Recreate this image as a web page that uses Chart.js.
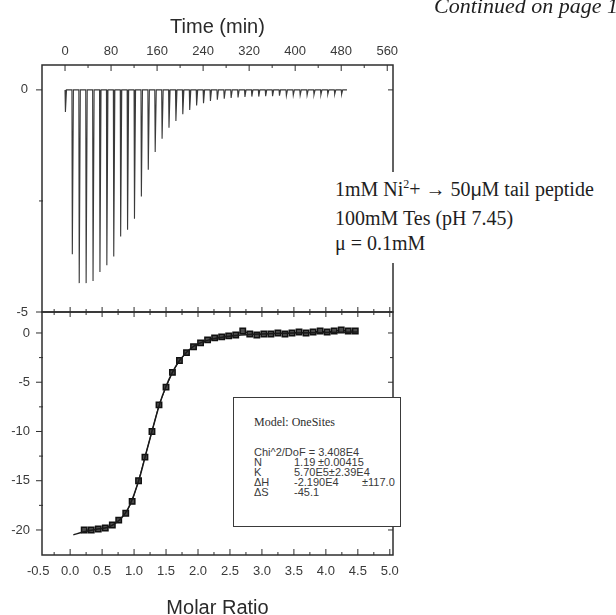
<!DOCTYPE html>
<html>
<head>
<meta charset="utf-8">
<script src="https://cdn.jsdelivr.net/npm/chart.js@4"></script>
<style>
  html, body { margin: 0; padding: 0; background: #fff; width: 616px; height: 615px; overflow: hidden; }
  #wrap { position: relative; width: 616px; height: 615px; overflow: hidden; }
  canvas { position: absolute; left: 0; }
  #chart-power { top: 0; }
  #chart-heat { top: 300px; }
  .serif { position: absolute; font-family: "Liberation Serif", "Times New Roman", serif; color: #1e1e1e; white-space: nowrap; }
  #continued { left: 434px; top: -5px; font-size: 22px; line-height: 22px; font-style: italic; }
  #conditions { position: absolute; left: 330px; top: 172px; width: 290px; height: 91px; background: #fff; }
  .cond { font-size: 20px; line-height: 20px; }
  .cond sup { font-size: 12px; line-height: 0; vertical-align: 8px; }
  .cond .mu { font-family: "Liberation Sans", Arial, sans-serif; font-size: 19px; }
  #fit-box { position: absolute; left: 233px; top: 397px; width: 166px; height: 128px; border: 1.5px solid #3a3a3a; background: #fff; }
  .fit-row { position: absolute; left: 20px; font-family: "Liberation Sans", Arial, sans-serif; font-size: 11px; line-height: 10px; color: #3a3a3a; white-space: nowrap; }
  .fit-row span { position: absolute; top: 0; }
  #fit-model { font-family: "Liberation Serif", "Times New Roman", serif; font-size: 12px; color: #2e2e2e; }
</style>
</head>
<body>
<div id="wrap">
  <canvas id="chart-power" width="616" height="325"></canvas>
  <canvas id="chart-heat" width="616" height="325"></canvas>

  <div id="continued" class="serif">Continued on page 12</div>

  <div id="conditions">
    <div class="serif cond" style="left:5px; top:7px;">1mM Ni<sup>2</sup>+ → 50<span class="mu">μ</span>M tail peptide</div>
    <div class="serif cond" style="left:5px; top:36px;">100mM Tes (pH 7.45)</div>
    <div class="serif cond" style="left:5px; top:61px;">μ = 0.1mM</div>
  </div>

  <div id="fit-box">
    <div class="fit-row" id="fit-model" style="top:19px;">Model: OneSites</div>
    <div class="fit-row" style="top:49px;">Chi^2/DoF = 3.408E4</div>
    <div class="fit-row" style="top:59px;"><span style="left:0">N</span><span style="left:40px">1.19</span><span style="left:64px">±0.00415</span></div>
    <div class="fit-row" style="top:69px;"><span style="left:0">K</span><span style="left:40px">5.70E5±2.39E4</span></div>
    <div class="fit-row" style="top:79px;"><span style="left:0">ΔH</span><span style="left:40px">-2.190E4</span><span style="left:108px">±117.0</span></div>
    <div class="fit-row" style="top:89px;"><span style="left:0">ΔS</span><span style="left:40px">-45.1</span></div>
  </div>
</div>

<script>
  // raw thermogram: one spike per injection
  var injectTime = [0, 12, 24, 36, 48, 60, 72, 84, 96, 108, 120, 132, 144, 156, 168, 180, 192, 204, 216, 228,
    240, 252, 264, 276, 288, 300, 312, 324, 336, 348, 360, 372, 384, 396, 408, 420, 432, 444, 456, 468, 480];
  var peakPower = [-0.5, -3.7, -4.35, -4.35, -4.3, -4.1, -3.95, -3.75, -3.3, -3.15, -2.9, -2.4, -1.8, -1.4, -1.1,
    -0.85, -0.7, -0.55, -0.45, -0.35, -0.3, -0.25, -0.22, -0.2, -0.18, -0.17, -0.16, -0.15, -0.15, -0.14,
    -0.14, -0.13, -0.13, -0.12, -0.12, -0.12, -0.11, -0.11, -0.1, -0.1, -0.1];
  var baseline = 0;
  var traceEnd = 490;

  // integrated heats
  var molarRatio = [0.22, 0.33, 0.44, 0.55, 0.66, 0.76, 0.87, 0.97, 1.07, 1.17, 1.28, 1.39, 1.50, 1.60, 1.71,
    1.82, 1.93, 2.04, 2.15, 2.26, 2.37, 2.48, 2.59, 2.70, 2.81, 2.92, 3.03, 3.14, 3.25, 3.36, 3.47, 3.58,
    3.69, 3.80, 3.91, 4.02, 4.13, 4.24, 4.35, 4.46];
  var heat = [-20.0, -20.0, -19.9, -19.8, -19.5, -19.0, -18.3, -17.1, -15.0, -12.6, -10.0, -7.3, -5.5, -4.0, -2.8,
    -2.0, -1.4, -1.0, -0.7, -0.5, -0.4, -0.3, -0.2, 0.2, -0.1, -0.2, -0.1, -0.1, 0.0, -0.1, 0.0, 0.1,
    0.0, 0.1, 0.2, 0.1, 0.2, 0.3, 0.2, 0.2];

  // fitted curve
  var fitRatio = [0.05, 0.2, 0.4, 0.6, 0.7, 0.8, 0.9, 1.0, 1.1, 1.2, 1.3, 1.4, 1.5, 1.6, 1.7, 1.8, 1.9, 2.0,
    2.2, 2.4, 2.6, 3.0, 3.5, 4.0, 4.5];
  var fitHeat = [-20.5, -20.2, -19.95, -19.7, -19.35, -18.8, -17.9, -16.4, -14.4, -11.9, -9.5, -7.2, -5.4, -4.0,
    -2.9, -2.1, -1.5, -1.1, -0.65, -0.4, -0.25, -0.1, 0.0, 0.05, 0.1];

  var timeTicks = [0, 80, 160, 240, 320, 400, 480, 560];
  var timeMinorTicks = [40, 120, 200, 280, 360, 440, 520];
  var powerTicks = [0, -5];
  var powerMinorTicks = [-2.5];
  var ratioTicks = [-0.5, 0, 0.5, 1, 1.5, 2, 2.5, 3, 3.5, 4, 4.5, 5];
  var ratioMinorTicks = [-0.25, 0.25, 0.75, 1.25, 1.75, 2.25, 2.75, 3.25, 3.75, 4.25, 4.75];
  var heatTicks = [0, -5, -10, -15, -20];
  var heatMinorTicks = [-2.5, -7.5, -12.5, -17.5];

  var sans = "'Liberation Sans', Arial, sans-serif";
  var tickFont = { family: sans, size: 13 };
  var titleFont = { family: sans, size: 20 };

  function setTicks(values) {
    return function (scale) {
      scale.ticks = values.map(function (v) { return { value: v }; });
    };
  }

  // fixed box size, and no extra room asked for overhanging labels
  function fixSize(w, h) {
    return function (s) {
      if (w != null) s.width = w;
      if (h != null) s.height = h;
      s.paddingTop = 0;
      s.paddingBottom = 0;
      s.paddingLeft = 0;
      s.paddingRight = 0;
    };
  }

  // frame round the plot area plus Origin-style tick marks
  var framePlugin = {
    id: "frame",
    afterDraw: function (chart, args, opts) {
      var ctx = chart.ctx;
      var a = chart.chartArea;
      ctx.save();
      ctx.strokeStyle = "#2e2e2e";
      ctx.lineWidth = 1.5;
      ctx.strokeRect(a.left, a.top, a.right - a.left, a.bottom - a.top);
      ctx.lineWidth = 1;
      ctx.beginPath();
      (opts.marks || []).forEach(function (m) {
        var scale = chart.scales[m.axis];
        m.values.forEach(function (v) {
          var p = scale.getPixelForValue(v);
          if (m.edge === "top" || m.edge === "bottom") {
            if (p < a.left - 1 || p > a.right + 1) return;
            var y0 = m.edge === "top" ? a.top : a.bottom;
            var s = m.edge === "top" ? 1 : -1;
            ctx.moveTo(p, y0 - s * m.outside);
            ctx.lineTo(p, y0 + s * m.inside);
          } else {
            if (p < a.top - 1 || p > a.bottom + 1) return;
            var x0 = m.edge === "left" ? a.left : a.right;
            var s2 = m.edge === "left" ? 1 : -1;
            ctx.moveTo(x0 - s2 * m.outside, p);
            ctx.lineTo(x0 + s2 * m.inside, p);
          }
        });
      });
      ctx.stroke();
      ctx.restore();
    },
  };

  function buildTrace() {
    var pts = [];
    for (var i = 0; i < injectTime.length; i++) {
      var t = injectTime[i];
      pts.push({ x: t, y: baseline });
      pts.push({ x: t + 0.7, y: peakPower[i] });
      pts.push({ x: t + 2.6, y: baseline });
    }
    pts.push({ x: traceEnd, y: baseline });
    return pts;
  }

  function pairs(xs, ys) {
    return xs.map(function (x, i) { return { x: x, y: ys[i] }; });
  }

  function boot() {
    if (!window.Chart) return;

    new Chart(document.getElementById("chart-power"), {
      type: "line",
      data: {
        datasets: [
          {
            data: buildTrace(),
            borderColor: "#3a3a3a",
            borderWidth: 1.1,
            pointRadius: 0,
            tension: 0,
          },
        ],
      },
      options: {
        responsive: false,
        animation: false,
        layout: { padding: { left: 0, top: 0, right: 223, bottom: 13 } },
        plugins: {
          legend: { display: false },
          tooltip: { enabled: false },
          frame: {
            marks: [
              { axis: "x", edge: "top", values: timeTicks, inside: 6, outside: 0 },
              { axis: "x", edge: "top", values: timeMinorTicks, inside: 3, outside: 0 },
              { axis: "y", edge: "left", values: powerTicks, inside: 0, outside: 6 },
              { axis: "y", edge: "left", values: powerMinorTicks, inside: 1, outside: 3 },
              { axis: "y", edge: "right", values: powerTicks, inside: 5, outside: 0 },
            ],
          },
        },
        scales: {
          x: {
            type: "linear",
            position: "top",
            min: -40,
            max: 570,
            grid: { display: false, drawTicks: false },
            border: { display: false },
            afterBuildTicks: setTicks(timeTicks),
            afterFit: fixSize(null, 65),
            ticks: {
              autoSkip: false,
              maxRotation: 0,
              padding: 6,
              color: "#3a3a3a",
              font: tickFont,
              callback: function (v) { return String(v); },
            },
            title: {
              display: true,
              text: "Time (min)",
              color: "#2a2a2a",
              font: titleFont,
              padding: { top: 15, bottom: 0 },
            },
          },
          y: {
            type: "linear",
            min: -5,
            max: 0.56,
            grid: { display: false, drawTicks: false },
            border: { display: false },
            afterBuildTicks: setTicks(powerTicks),
            afterFit: fixSize(42, null),
            ticks: {
              padding: 14,
              color: "#3a3a3a",
              font: tickFont,
              callback: function (v) { return String(v); },
            },
          },
        },
      },
      plugins: [framePlugin],
    });

    new Chart(document.getElementById("chart-heat"), {
      type: "line",
      data: {
        datasets: [
          {
            label: "fit",
            data: pairs(fitRatio, fitHeat),
            borderColor: "#1a1a1a",
            borderWidth: 1.5,
            pointRadius: 0,
            cubicInterpolationMode: "monotone",
          },
          {
            label: "heat",
            data: pairs(molarRatio, heat),
            showLine: true,
            borderColor: "#1a1a1a",
            borderWidth: 1,
            pointStyle: "rect",
            pointRadius: 3.8,
            pointBackgroundColor: "#4a4a4a",
            pointBorderColor: "#111",
            pointBorderWidth: 1.5,
          },
        ],
      },
      options: {
        responsive: false,
        animation: false,
        layout: { padding: { left: 0, top: 12, right: 223, bottom: 0 } },
        plugins: {
          legend: { display: false },
          tooltip: { enabled: false },
          frame: {
            marks: [
              { axis: "x", edge: "bottom", values: ratioTicks, inside: 6, outside: 0 },
              { axis: "x", edge: "bottom", values: ratioMinorTicks, inside: 3, outside: 0 },
              { axis: "x", edge: "top", values: ratioTicks, inside: 5, outside: 5 },
              { axis: "x", edge: "top", values: ratioMinorTicks, inside: 3, outside: 3 },
              { axis: "y", edge: "left", values: heatTicks, inside: 0, outside: 6 },
              { axis: "y", edge: "left", values: heatMinorTicks, inside: 1, outside: 3 },
              { axis: "y", edge: "right", values: heatTicks, inside: 5, outside: 0 },
              { axis: "y", edge: "right", values: heatMinorTicks, inside: 3, outside: 0 },
            ],
          },
        },
        scales: {
          x: {
            type: "linear",
            position: "bottom",
            min: -0.44,
            max: 5.05,
            grid: { display: false, drawTicks: false },
            border: { display: false },
            afterBuildTicks: setTicks(ratioTicks),
            afterFit: fixSize(null, 70),
            ticks: {
              autoSkip: false,
              maxRotation: 0,
              padding: 9,
              color: "#3a3a3a",
              font: tickFont,
              callback: function (v) { return Number(v).toFixed(1); },
            },
            title: {
              display: true,
              text: "Molar Ratio",
              color: "#2a2a2a",
              font: titleFont,
              padding: { top: 0, bottom: 5 },
            },
          },
          y: {
            type: "linear",
            min: -22.54,
            max: 2.13,
            grid: { display: false, drawTicks: false },
            border: { display: false },
            afterBuildTicks: setTicks(heatTicks),
            afterFit: fixSize(42, null),
            ticks: {
              padding: 12,
              color: "#3a3a3a",
              font: tickFont,
              callback: function (v) { return String(v); },
            },
          },
        },
      },
      plugins: [framePlugin],
    });
  }

  if (document.readyState === "loading") {
    document.addEventListener("DOMContentLoaded", boot);
  } else {
    boot();
  }
</script>
</body>
</html>
